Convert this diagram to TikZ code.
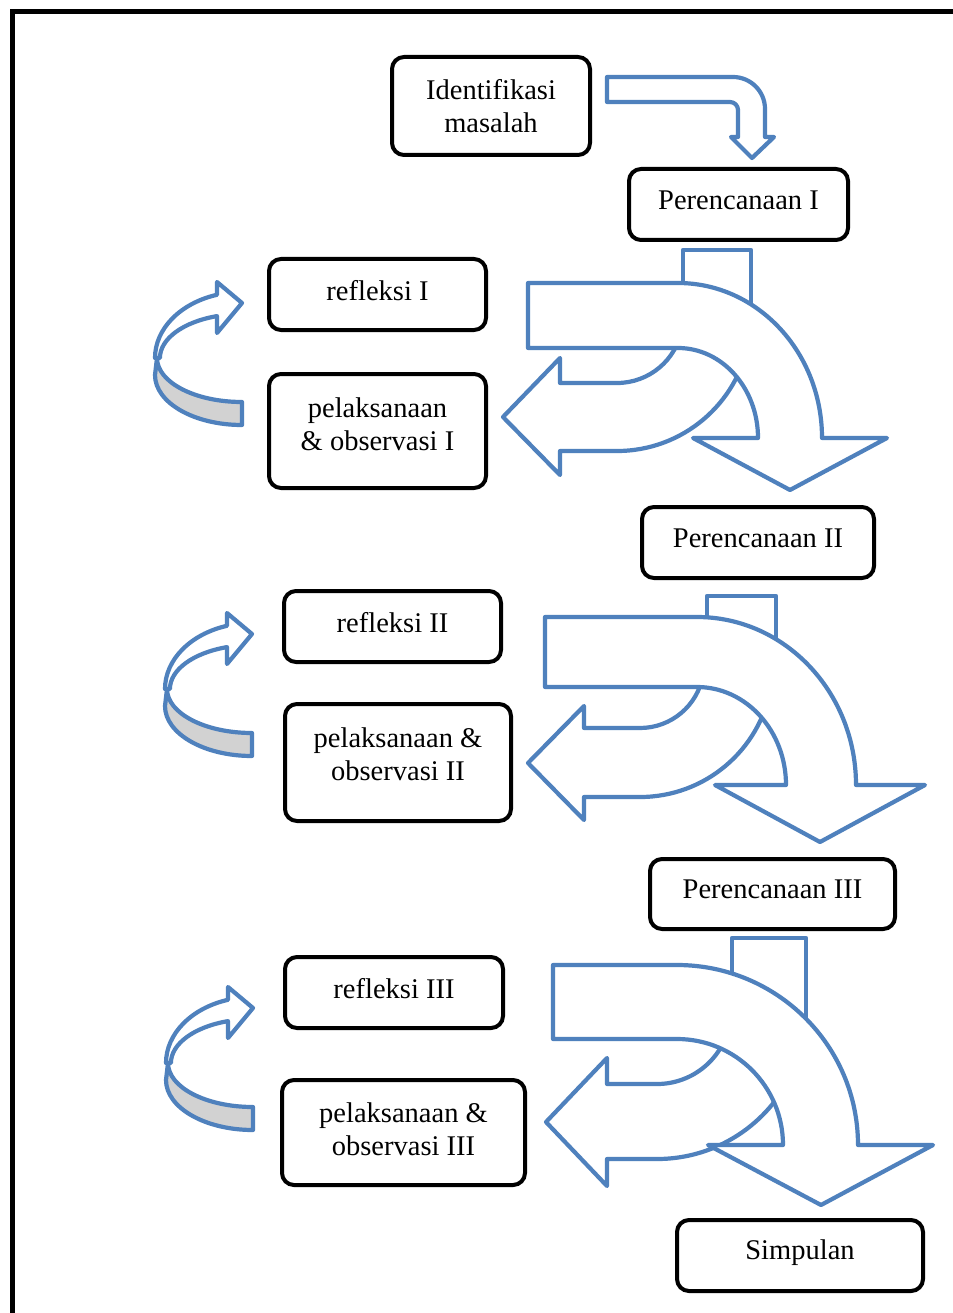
\documentclass[tikz,border=0pt]{standalone}
\usepackage{fontspec}
\setmainfont{Liberation Serif}
\usetikzlibrary{calc}
\definecolor{arrowblue}{RGB}{79,129,189}
\definecolor{ribbongrey}{RGB}{210,210,210}
\tikzset{
  box/.style={draw=black, line width=4pt, rounded corners=12pt, fill=white,
    align=center, font=\fontsize{28.5}{33}\selectfont, inner sep=0pt},
  blu/.style={draw=arrowblue, line width=4.2pt, line join=round, fill=white},
  ribbon/.style={draw=arrowblue, line width=4.2pt, line join=round, fill=ribbongrey},
  frameline/.style={draw=black, line width=5pt},
}
\begin{document}
\begin{tikzpicture}[x=1pt,y=1pt]
\useasboundingbox (0,0) rectangle (952,-1313);
\fill[white] (0,0) rectangle (952,-1313);
% outer frame
\coordinate (fbl) at (12,-1330);
\coordinate (ftl) at (12,-12);
\coordinate (ftr) at (970,-12);
\draw[frameline] (fbl) -- (ftl) -- (ftr);

% ---------- top bent arrow ----------
\path[blu] (607,-77) -- (733,-77) arc[start angle=90,end angle=0,radius=32]
  -- (765,-137) -- (774,-137) -- (752,-158) -- (731,-137) -- (738,-137)
  -- (738,-110) arc[start angle=0,end angle=90,radius=8] -- (607,-102) -- cycle;

% ---------- U-turn 1 ----------
\path[blu] (683,-330) -- (683,-250) -- (751,-250) -- (751,-330) -- cycle;
\path[blu] (503,-417) -- (560,-358) -- (560,-383) -- (617,-383)
  arc[start angle=270,end angle=350,radius=66]
  -- ($(617,-317)+(350:134)$)
  arc[start angle=350,end angle=270,radius=134]
  -- (560,-451) -- (560,-475) -- cycle;
\path[blu] (528,-283) -- (678,-283)
  arc[start angle=90,end angle=0,x radius=144,y radius=155]
  -- (887,-438) -- (790,-490) -- (693,-438) -- (758,-438)
  arc[start angle=0,end angle=90,x radius=80,y radius=90]
  -- (528,-348) -- cycle;

% ---------- U-turn 2 ----------
\path[blu] (707,-680) -- (707,-596) -- (776,-596) -- (776,-680) -- cycle;
\path[blu] (528,-763) -- (584,-706) -- (584,-728) -- (640,-728)
  arc[start angle=270,end angle=350,radius=64]
  -- ($(640,-664)+(350:133)$)
  arc[start angle=350,end angle=270,radius=133]
  -- (584,-797) -- (584,-820) -- cycle;
\path[blu] (545,-617) -- (697,-617)
  arc[start angle=90,end angle=0,x radius=159,y radius=168]
  -- (925,-785) -- (820,-842) -- (715,-785) -- (786,-785)
  arc[start angle=0,end angle=90,x radius=89,y radius=98]
  -- (545,-687) -- cycle;

% ---------- U-turn 3 ----------
\path[blu] (732,-1030) -- (732,-938) -- (806,-938) -- (806,-1030) -- cycle;
\path[blu] (546,-1122) -- (607,-1058) -- (607,-1084) -- (657,-1084)
  arc[start angle=270,end angle=350,radius=74]
  -- ($(657,-1010)+(350:149)$)
  arc[start angle=350,end angle=270,radius=149]
  -- (607,-1159) -- (607,-1186) -- cycle;
\path[blu] (553,-965) -- (677,-965)
  arc[start angle=90,end angle=0,x radius=181,y radius=180]
  -- (933,-1145) -- (821,-1205) -- (708,-1145) -- (783,-1145)
  arc[start angle=0,end angle=90,x radius=106,y radius=106]
  -- (553,-1039) -- cycle;

% ---------- circular arrows ----------
\foreach \dx/\dy in {0/0, 10/-331, 11/-705}{
  \begin{scope}[shift={(\dx,\dy)}]
    \path[ribbon] (157,-358) arc[start angle=180,end angle=270,x radius=85,y radius=44]
      -- (242,-425) arc[start angle=270,end angle=180,x radius=87,y radius=50] -- cycle;
    \path[blu] (155,-358) arc[start angle=180,end angle=106.7,x radius=87,y radius=66]
      -- (217,-282) -- (242,-303) -- (217,-333) -- (217,-316.1)
      arc[start angle=107.7,end angle=180,x radius=82,y radius=44] -- cycle;
  \end{scope}
}

% ---------- boxes ----------
\node[box, minimum width=198pt, minimum height=98pt] (iden) at (491,-106) {Identifikasi\\masalah};
\node[box, text depth=9pt, minimum width=219pt, minimum height=71pt] (p1) at (738.5,-204.5) {Perencanaan I};
\node[box, text depth=9pt, minimum width=217pt, minimum height=71pt] (r1) at (377.5,-294.5) {refleksi I};
\node[box, text depth=14pt, minimum width=217pt, minimum height=114pt] (o1) at (377.5,-431) {pelaksanaan\\\& observasi I};
\node[box, text depth=9pt, minimum width=232pt, minimum height=71pt] (p2) at (758,-542.5) {Perencanaan II};
\node[box, text depth=9pt, minimum width=217pt, minimum height=71pt] (r2) at (392.5,-626.5) {refleksi II};
\node[box, text depth=16pt, minimum width=226pt, minimum height=117pt] (o2) at (398,-762.5) {pelaksanaan \&\\observasi II};
\node[box, text depth=9pt, minimum width=245pt, minimum height=70pt] (p3) at (772.5,-894) {Perencanaan III};
\node[box, text depth=9pt, minimum width=218pt, minimum height=71pt] (r3) at (394,-992.5) {refleksi III};
\node[box, text depth=7pt, minimum width=243pt, minimum height=105pt] (o3) at (403.5,-1132.5) {pelaksanaan \&\\observasi III};
\node[box, text depth=12pt, minimum width=246pt, minimum height=71pt] (s) at (800,-1255.5) {Simpulan};
\end{tikzpicture}
\end{document}
